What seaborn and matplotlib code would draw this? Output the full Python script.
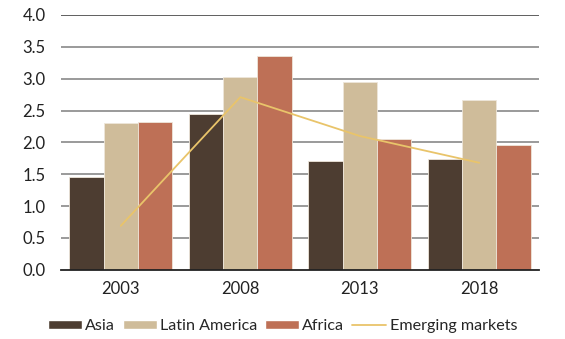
import numpy as np
import pandas as pd
import matplotlib
matplotlib.use("Agg")
import matplotlib.pyplot as plt
import seaborn as sns
from matplotlib.lines import Line2D
from matplotlib.patches import Patch

years = ["2003", "2008", "2013", "2018"]
asia = [1.46, 2.45, 1.71, 1.74]
latin_america = [2.31, 3.03, 2.95, 2.67]
africa = [2.32, 3.36, 2.06, 1.96]
emerging_markets = [0.69, 2.71, 2.10, 1.68]
series_names = ["Asia", "Latin America", "Africa"]
colors = ["#4D3D31", "#CFBC9A", "#BE7056"]
line_color = "#E9C46A"

sns.set_theme(style="white")
plt.rcParams["font.family"] = ["Lato", "DejaVu Sans"]
FS = 12.0

df = pd.DataFrame({
    "year": years * 3,
    "value": asia + latin_america + africa,
    "region": [s for s in series_names for _ in years],
})

fig = plt.figure(figsize=(5.65, 3.39), dpi=100)
ax = fig.add_axes([0.108, 0.204, 0.846, 0.752])

for y in np.arange(0.5, 4.0, 0.5):
    ax.axhline(y, color="#9A9A9A", lw=1.4, zorder=0)
ax.axhline(4.0, color="#444444", lw=1.2, zorder=0)

sns.barplot(data=df, x="year", y="value", hue="region", palette=colors,
            width=0.86, saturation=1, ax=ax, legend=False,
            edgecolor="#EEE6DA", linewidth=0.6, zorder=2)

sns.lineplot(x=np.arange(len(years)), y=emerging_markets, color=line_color,
             lw=1.3, ax=ax, zorder=3)

ax.set_xlim(-0.5, 3.5)
ax.set_ylim(0, 4.0)
ax.set_yticks(np.arange(0, 4.01, 0.5))
ax.set_yticklabels([f"{v:.1f}" for v in np.arange(0, 4.01, 0.5)])
ax.set_xlabel("")
ax.set_ylabel("")
ax.tick_params(axis="both", length=0, labelsize=FS, colors="#222222")
ax.tick_params(axis="x", pad=8)
ax.tick_params(axis="y", pad=11)
for side in ["top", "right", "left"]:
    ax.spines[side].set_visible(False)
ax.spines["bottom"].set_color("#222222")
ax.spines["bottom"].set_linewidth(1.3)

handles = [Patch(facecolor=c, label=n) for c, n in zip(colors, series_names)]
handles.append(Line2D([0], [0], color=line_color, lw=1.3, label="Emerging markets"))
fig.legend(handles=handles, loc="center", bbox_to_anchor=(0.50, 0.038), ncol=4,
           frameon=False, fontsize=11.6, handlelength=2.1, handleheight=0.55,
           handletextpad=0.2, columnspacing=0.5, borderaxespad=0)

fig.savefig("out.png", dpi=100)
